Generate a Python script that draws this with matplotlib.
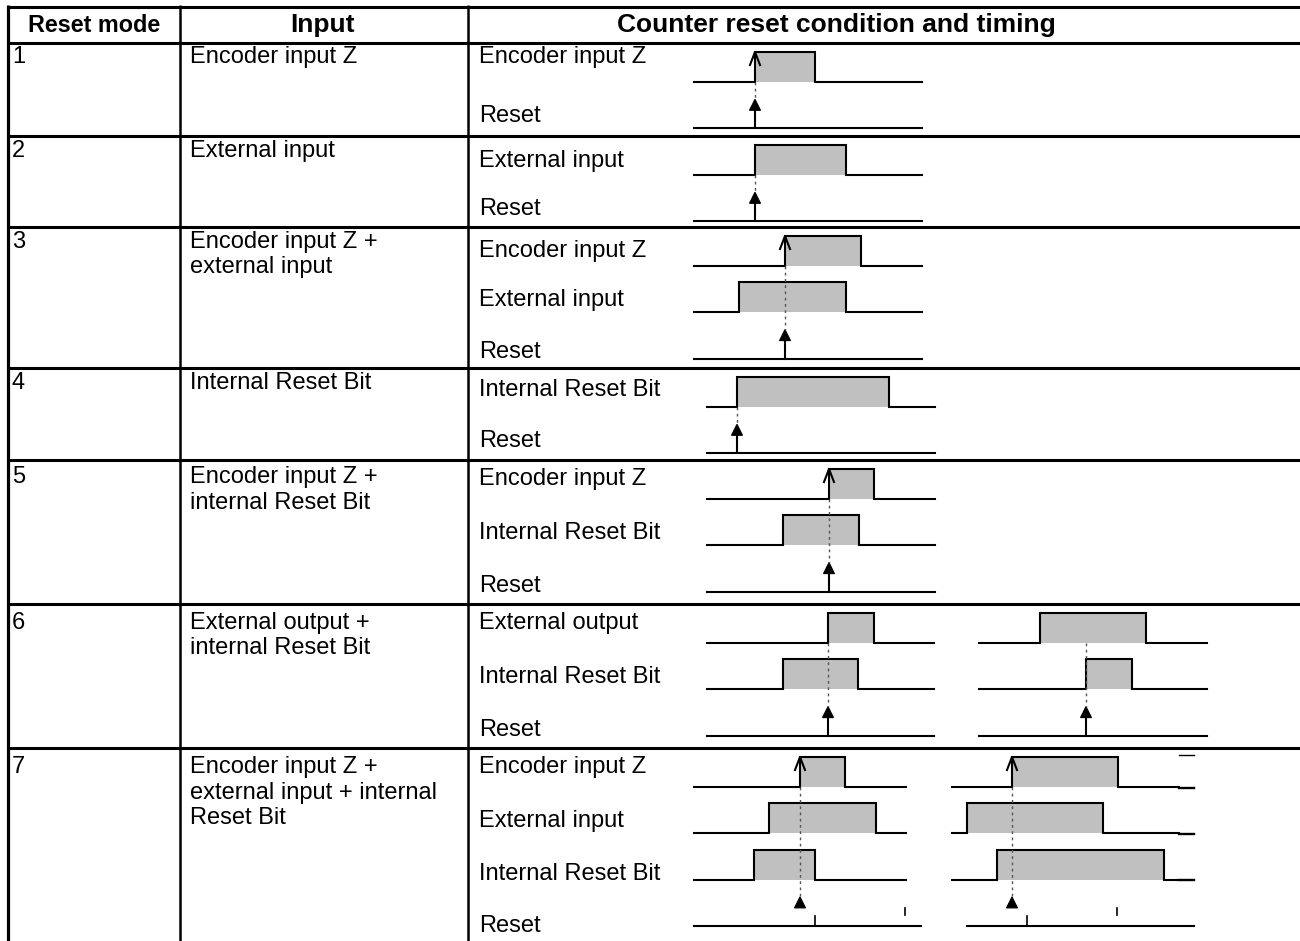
import matplotlib
matplotlib.use("Agg")
import matplotlib.pyplot as plt

plt.rcParams['font.family'] = ['Liberation Sans', 'DejaVu Sans']

# ---- table content ----
headers = ['Reset mode', 'Input', 'Counter reset condition and timing']
reset_modes = ['1', '2', '3', '4', '5', '6', '7']
inputs = ['Encoder input Z',
          'External input',
          'Encoder input Z +\nexternal input',
          'Internal Reset Bit',
          'Encoder input Z +\ninternal Reset Bit',
          'External output +\ninternal Reset Bit',
          'Encoder input Z +\nexternal input + internal\nReset Bit']
signals = [['Encoder input Z', 'Reset'],
           ['External input', 'Reset'],
           ['Encoder input Z', 'External input', 'Reset'],
           ['Internal Reset Bit', 'Reset'],
           ['Encoder input Z', 'Internal Reset Bit', 'Reset'],
           ['External output', 'Internal Reset Bit', 'Reset'],
           ['Encoder input Z', 'External input', 'Internal Reset Bit', 'Reset']]

# pulse edges (rise, fall) for each non-reset signal, left diagram
left_pulses = [[(755, 815)],
               [(755, 846)],
               [(785, 861), (739, 846)],
               [(737, 889)],
               [(829, 874), (783, 859)],
               [(828, 874), (783, 858)],
               [(800, 845), (769, 876), (754, 815)]]
left_reset = [755, 755, 785, 737, 829, 828, 800]
left_span = [(694, 922), (694, 922), (694, 922), (707, 935), (707, 935),
             (707, 934), (694, 906)]

# second diagram for modes 6 and 7
right_rows = [5, 6]
right_pulses = [[(1040, 1146), (1086, 1132)],
                [(1012, 1118), (967, 1103), (997, 1164)]]
right_reset = [1086, 1012]
right_span = [(979, 1207), (952, 1179)]

# layout (pixels)
W, H = 1300, 941
row_tops = [43, 136, 227, 368, 460, 604, 748]
text_off = [20, 21, 21, 21, 23, 25, 25]      # first line baseline, cols 1-2
label_off = [20, 31, 30, 28, 25, 25, 25]     # first signal label baseline
col_x = [8, 180, 468]
head_x = [94, 323, 836]
head_fs = [16.8, 19, 19]
FS = 17
GRAY = '#c0c0c0'
LW = 1.5

fig = plt.figure(figsize=(W / 100, H / 100), dpi=100)
ax = fig.add_axes([0, 0, 1, 1])
ax.set_xlim(0, W)
ax.set_ylim(H, 0)
ax.axis('off')

# grid
for y in [7] + row_tops:
    ax.plot([col_x[0] - 1, W], [y, y], color='black', lw=2.2, solid_capstyle='butt')
ax.plot([col_x[0], col_x[0]], [5, H], color='black', lw=2.3, solid_capstyle='butt')
for x in col_x[1:]:
    ax.plot([x, x], [5, H], color='black', lw=1.8, solid_capstyle='butt')

# header
for xc, s, fs in zip(head_x, headers, head_fs):
    ax.text(xc, 32, s, fontsize=fs, fontweight='bold', ha='center', va='baseline')


def draw_diagram(top, pulses, rx, span, names, last=False):
    x0, x1 = span
    n = len(names)
    lows = [top + 39 + 46.3 * k for k in range(n)]
    for k, (rise, fall) in enumerate(pulses):
        lo = lows[k]
        hi = lo - 30
        ax.fill_between([rise, fall], [lo, lo], [hi, hi], color=GRAY, lw=0)
        ax.plot([x0, rise, rise, fall, fall, x1], [lo, lo, hi, hi, lo, lo],
                color='black', lw=LW, solid_joinstyle='miter')
        if names[k] == 'Encoder input Z':
            ax.plot([rise - 5, rise, rise + 5], [hi + 13, hi, hi + 13],
                    color='black', lw=LW)
    rlo = lows[-1]
    tip = rlo - 29
    # dotted guide from first edge to the reset arrow
    ax.plot([rx, rx], [lows[0], tip], color='#555555', lw=1.0,
            linestyle=(0, (2, 2.5)))
    ax.fill([rx - 5.5, rx, rx + 5.5], [tip + 11, tip, tip + 11],
            color='black', lw=0.8, edgecolor='black')
    if last:
        # mode 7: reset line is offset and the arrow has no stem
        ax.plot([x0 + (15 if x0 > 900 else 0), x1 + 15], [rlo, rlo],
                color='black', lw=LW)
    else:
        ax.plot([x0, x1], [rlo, rlo], color='black', lw=LW)
        ax.plot([rx, rx], [rlo, tip + 10], color='black', lw=LW)
    return lows


for i, top in enumerate(row_tops):
    tb = top + text_off[i]
    ax.text(12, tb, reset_modes[i], fontsize=FS, va='baseline')
    for j, line in enumerate(inputs[i].split('\n')):
        ax.text(190, tb + 25.5 * j, line, fontsize=FS, va='baseline')
    for k, name in enumerate(signals[i]):
        yb = top + label_off[i] if k == 0 else top + 79 + 52.5 * (k - 1)
        ax.text(479, yb, name, fontsize=FS, va='baseline')
    draw_diagram(top, left_pulses[i], left_reset[i], left_span[i],
                 signals[i], last=(i == 6))
    if i in right_rows:
        j = right_rows.index(i)
        draw_diagram(top, right_pulses[j], right_reset[j], right_span[j],
                     signals[i], last=(i == 6))

# small stray marks on the mode 7 reset line
r7 = row_tops[6] + 39 + 46.3 * 3
for x in [815, 1027]:
    ax.plot([x, x], [r7, r7 - 10], color='black', lw=1.2)
for x in [905, 1117]:
    ax.plot([x, x], [r7 - 18, r7 - 11], color='black', lw=1.2)
for k in range(3):
    y = row_tops[6] + 39 + 46.3 * k + 0.5
    ax.plot([1179, 1194], [y, y], color='black', lw=1.7)
ax.plot([1179, 1194], [755, 755], color='black', lw=1.0)

fig.savefig('out.png', dpi=100)
